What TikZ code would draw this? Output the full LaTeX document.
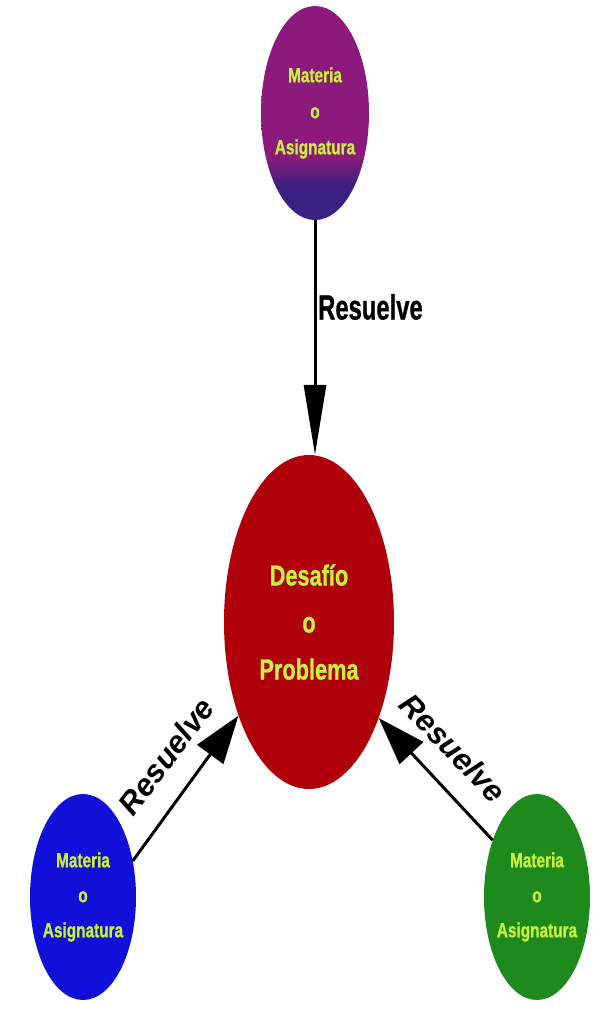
\documentclass[tikz,border=0pt]{standalone}
\usepackage{fontspec}
\setmainfont{Liberation Sans}[BoldFeatures={FakeBold=1}]
\usetikzlibrary{shapes.geometric,arrows.meta}
\definecolor{purp}{HTML}{8C1A7C}
\definecolor{navyp}{HTML}{3A2080}
\definecolor{redc}{HTML}{B0000A}
\definecolor{bluec}{HTML}{1010D8}
\definecolor{greenc}{HTML}{1E8A1E}
\definecolor{txt}{HTML}{C8F03C}
\pgfdeclareverticalshading{topshade}{100bp}{color(0bp)=(navyp); color(33bp)=(navyp); color(40bp)=(purp); color(100bp)=(purp)}
\newcommand{\cnd}[1]{\scalebox{0.75}[1]{#1}}
\tikzset{
  blob/.style={ellipse, inner sep=0pt, inner xsep=-4pt, align=center, text=txt,
    minimum width=106pt, minimum height=206pt,
    font=\bfseries\fontsize{20.5}{35}\selectfont},
  bigblob/.style={ellipse, inner sep=0pt, align=center, text=txt,
    minimum width=170pt, minimum height=334pt,
    font=\bfseries\fontsize{29}{47}\selectfont},
  conn/.style={line width=3pt, -{Triangle[length=48pt,width=32pt]}},
  conntop/.style={line width=3pt, -{Triangle[length=70pt,width=22pt]}},
  lbl/.style={font=\bfseries\itshape\fontsize{31}{31}\selectfont, inner sep=0pt},
  toplbl/.style={font=\bfseries\fontsize{35}{35}\selectfont, inner sep=0pt, anchor=west}
}
\begin{document}
\begin{tikzpicture}[x=1pt,y=-1pt]
\fill[white] (0,0) rectangle (595,1010);
\useasboundingbox (0,0) rectangle (595,1010);
\node[blob, minimum width=108pt, minimum height=214pt, shade, shading=topshade,
  font=\bfseries\fontsize{20.5}{36}\selectfont] (top) at (315,113)
  {\cnd{Materia}\\\cnd{o}\\\cnd{Asignatura}};
\node[bigblob, fill=redc] (center) at (309,622)
  {\cnd{Desafío}\\\cnd{o}\\\cnd{Problema}};
\node[blob, fill=bluec] (left) at (83,897)
  {\cnd{Materia}\\\cnd{o}\\\cnd{Asignatura}};
\node[blob, fill=greenc] (right) at (537,897)
  {\cnd{Materia}\\\cnd{o}\\\cnd{Asignatura}};
\draw[conntop] (top.south) -- (top.south |- center.north);
\draw[conn] (left.36.5) -- (center.233.8);
\draw[conn] (right.128.3) -- (center.306.5);
\node[toplbl] (lt) at (318,307) {\scalebox{0.68}[1]{Resuelve}};
\node[lbl, rotate=53] (ll) at (166,756) {Resuelve};
\node[lbl, rotate=-46] (lr) at (453,748) {Resuelve};
\end{tikzpicture}
\end{document}
